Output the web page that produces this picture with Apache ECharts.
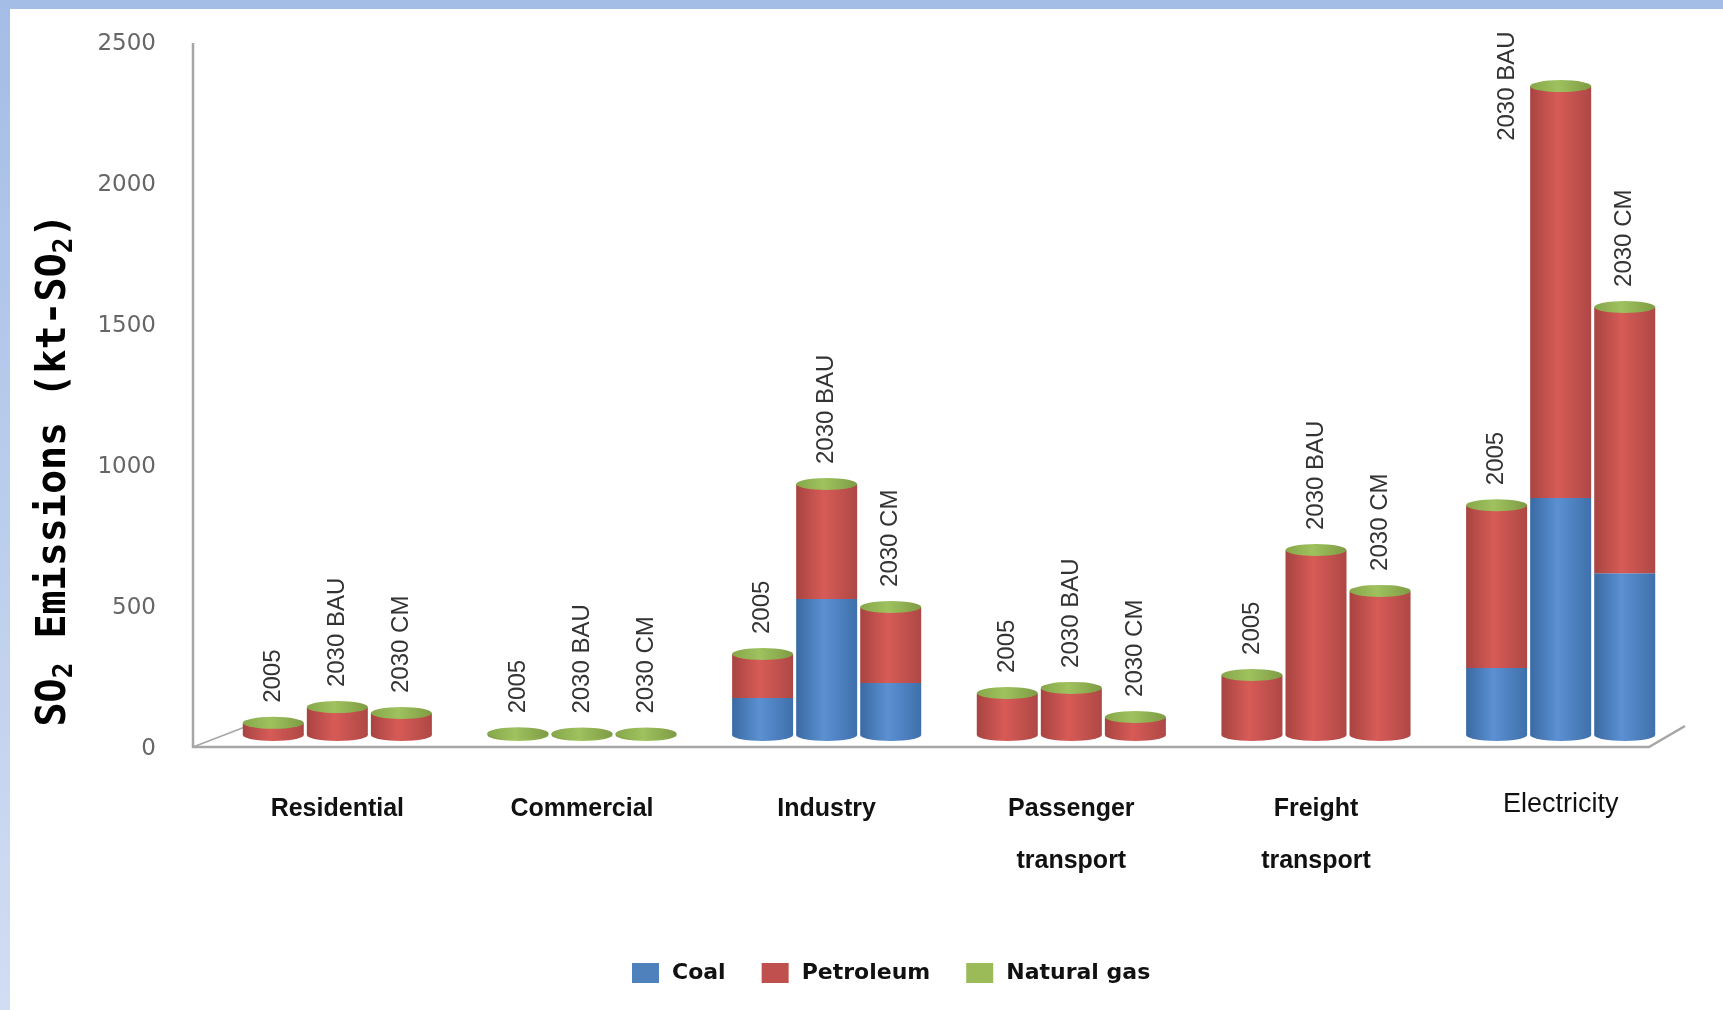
<!DOCTYPE html>
<html>
<head>
<meta charset="utf-8">
<script src="https://cdn.jsdelivr.net/npm/echarts@6/dist/echarts.min.js"></script>
<style>
html, body { margin: 0; padding: 0; background: #fff; }
#emission { width: 1723px; height: 1010px; }
</style>
</head>
<body>
<div id="emission"></div>
<script>
var myChart = echarts.init(document.getElementById('emission'));

var sectors = ['Residential', 'Commercial', 'Industry', 'Passenger\ntransport', 'Freight\ntransport', 'Electricity'];
var scenarios = ['2005', '2030 BAU', '2030 CM'];
var fuels = ['Coal', 'Petroleum', 'Natural gas'];
var yTicks = [0, 500, 1000, 1500, 2000, 2500];

// kt-SO2
var coal2005 = [0, 0, 131, 0, 0, 238];
var petroleum2005 = [40, 0, 153, 146, 210, 574];
var gas2005 = [3, 6, 3, 3, 3, 3];

var coalBAU = [0, 0, 482, 0, 0, 840];
var petroleumBAU = [96, 0, 405, 164, 653, 1458];
var gasBAU = [3, 5, 3, 3, 3, 3];

var coalCM = [0, 0, 184, 0, 0, 574];
var petroleumCM = [75, 0, 267, 61, 508, 941];
var gasCM = [3, 5, 3, 3, 3, 3];

var byScenario = [
    [coal2005, petroleum2005, gas2005],
    [coalBAU, petroleumBAU, gasBAU],
    [coalCM, petroleumCM, gasCM]
];

var legendColors = ['#4f81bd', '#c0504d', '#9bbb59'];

function cylinder(c) {
    return new echarts.graphic.LinearGradient(0, 0, 1, 0, [
        {offset: 0, color: c[0]},
        {offset: 0.45, color: c[1]},
        {offset: 1, color: c[2]}
    ]);
}
var shades = [
    ['#3a6aa3', '#5b90d2', '#3f70ab'],
    ['#a84441', '#d75b57', '#ae4845'],
    ['#7d9a43', '#a6c664', '#80a046']
];

var barW = 61;
var gap = '5%';
var series = [];

scenarios.forEach(function (sc, s) {
    var parts = byScenario[s];
    var totals = sectors.map(function (n, i) {
        return parts[0][i] + parts[1][i] + parts[2][i];
    });

    fuels.forEach(function (fuel, f) {
        var isTop = f === fuels.length - 1;
        series.push({
            name: fuel,
            type: 'bar',
            stack: sc,
            barWidth: barW,
            barGap: gap,
            itemStyle: {color: cylinder(shades[f])},
            label: {
                show: isTop,
                position: 'top',
                distance: 20,
                rotate: 90,
                align: 'left',
                verticalAlign: 'middle',
                formatter: sc,
                fontFamily: 'Liberation Sans',
                fontSize: 24,
                color: '#333'
            },
            data: parts[f].map(function (v, i) {
                // too tall for a label above: put it beside the bar
                if (isTop && totals[i] > 2100) {
                    return {
                        value: v,
                        label: {position: [-11, 0], align: 'center', verticalAlign: 'bottom'}
                    };
                }
                return v;
            })
        });
    });

    // green top of each cylinder
    series.push({
        name: 'top ' + sc,
        type: 'pictorialBar',
        symbol: 'circle',
        symbolSize: [barW, 12],
        symbolPosition: 'end',
        symbolOffset: [0, '-50%'],
        barWidth: barW,
        barGap: gap,
        z: 4,
        itemStyle: {color: cylinder(['#86a84a', '#9fc15e', '#7e9c44'])},
        data: totals
    });

    // rounded base, coloured like the lowest segment
    series.push({
        name: 'base ' + sc,
        type: 'pictorialBar',
        xAxisIndex: 1,
        symbol: 'circle',
        symbolSize: [barW, 12],
        symbolPosition: 'start',
        symbolOffset: [0, '50%'],
        barWidth: barW,
        barGap: gap,
        z: 1,
        data: totals.map(function (t, i) {
            var f = parts[0][i] > 0 ? 0 : (parts[1][i] > 0 ? 1 : 2);
            return {value: t, itemStyle: {color: cylinder(shades[f])}};
        })
    });
});

var option = {
    animation: false,
    backgroundColor: '#fff',
    grid: {left: 215, right: 40, top: 30, bottom: 275},
    legend: {
        left: 627,
        top: 957,
        itemWidth: 27,
        itemHeight: 20,
        itemGap: 36,
        icon: 'rect',
        textStyle: {
            fontFamily: 'DejaVu Sans',
            fontWeight: 'bold',
            fontSize: 22,
            color: '#111',
            padding: [0, 0, 0, 8]
        },
        data: fuels.map(function (f, i) {
            return {name: f, itemStyle: {color: legendColors[i]}};
        })
    },
    xAxis: [{
        type: 'category',
        data: sectors,
        offset: 10,
        axisLine: {show: false},
        axisTick: {show: false},
        axisLabel: {
            interval: 0,
            margin: 38,
            formatter: function (v) {
                if (v === 'Electricity') {
                    return '{r|' + v + '}';
                }
                return v.split('\n').map(function (l) {
                    return '{b|' + l + '}';
                }).join('\n');
            },
            rich: {
                b: {fontFamily: 'Liberation Sans', fontWeight: 'bold', fontSize: 25, lineHeight: 52, color: '#111'},
                r: {fontFamily: 'Liberation Sans', fontSize: 27, lineHeight: 44, color: '#111'}
            }
        }
    }, {
        type: 'category',
        data: sectors,
        show: false
    }],
    yAxis: {
        type: 'value',
        min: yTicks[0],
        max: yTicks[yTicks.length - 1],
        interval: yTicks[1] - yTicks[0],
        offset: 22,
        axisLine: {show: false},
        axisTick: {show: false},
        splitLine: {show: false},
        axisLabel: {
            margin: 37,
            fontFamily: 'DejaVu Sans',
            fontSize: 23,
            color: '#666',
            verticalAlign: 'top',
            lineHeight: 28,
            formatter: function (v) {
                return String(v);
            }
        }
    },
    graphic: [{
        type: 'rect',
        shape: {x: 0, y: 0, width: 1723, height: 9},
        style: {fill: '#a4bde6'},
        silent: true
    }, {
        type: 'rect',
        shape: {x: 0, y: 0, width: 10, height: 1010},
        style: {
            fill: new echarts.graphic.LinearGradient(0, 0, 0, 1, [
                {offset: 0, color: '#a4bde6'},
                {offset: 1, color: '#d1ddf3'}
            ])
        },
        silent: true
    }, {
        // value axis and floor edge of the 3-D frame
        type: 'polyline',
        shape: {points: [[193, 43], [193, 747], [1649, 747], [1685, 726]]},
        style: {stroke: '#a6a6a6', lineWidth: 2.5, fill: null},
        silent: true
    }, {
        type: 'line',
        shape: {x1: 193, y1: 747, x2: 245, y2: 727},
        style: {stroke: '#a6a6a6', lineWidth: 1.5},
        silent: true
    }, {
        type: 'text',
        x: 55,
        y: 470,
        rotation: Math.PI / 2,
        style: {
            text: '{m|SO}{s|2}{m| Emissions (kt-SO}{s|2}{m|)}',
            align: 'center',
            verticalAlign: 'middle',
            rich: {
                m: {fontFamily: 'DejaVu Sans Mono', fontWeight: 'bold', fontSize: 40, lineHeight: 46, fill: '#000'},
                s: {fontFamily: 'DejaVu Sans Mono', fontWeight: 'bold', fontSize: 26, lineHeight: 46, verticalAlign: 'bottom', fill: '#000'}
            }
        },
        silent: true
    }],
    series: series
};

myChart.setOption(option);
</script>
</body>
</html>
